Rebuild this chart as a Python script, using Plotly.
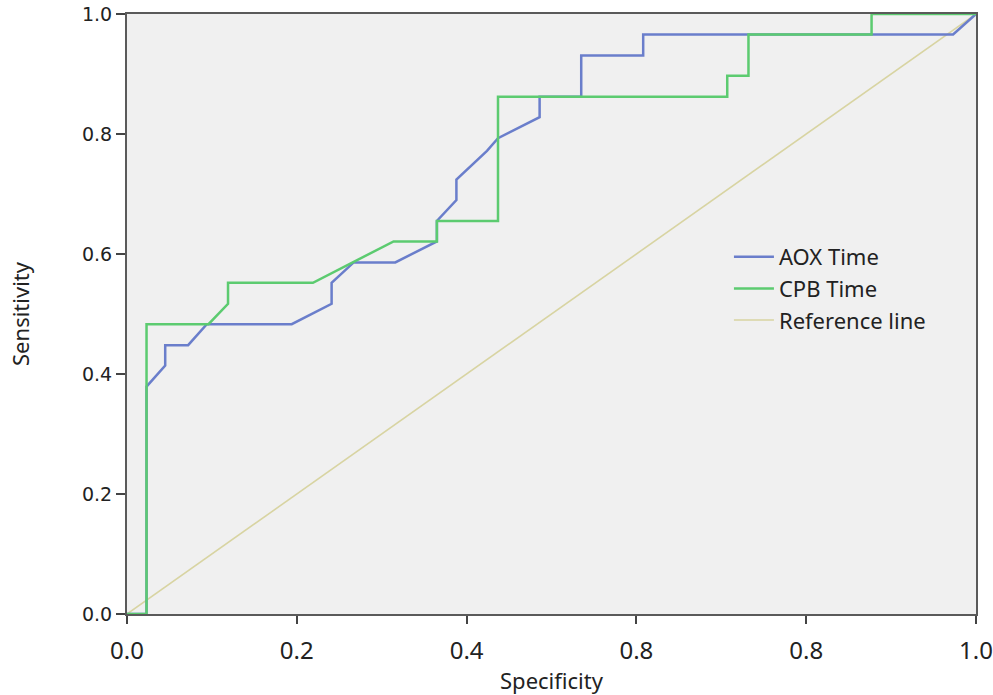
import plotly.graph_objects as go

# ROC data
aox_x = [0.0, 0.023, 0.023, 0.045, 0.045, 0.072, 0.094, 0.194, 0.241, 0.241, 0.267, 0.316,
         0.365, 0.365, 0.388, 0.388, 0.424, 0.437, 0.486, 0.486, 0.535, 0.535, 0.608, 0.608,
         0.973, 1.0]
aox_y = [0.0, 0.0, 0.379, 0.414, 0.448, 0.448, 0.483, 0.483, 0.517, 0.552, 0.586, 0.586,
         0.621, 0.655, 0.690, 0.724, 0.772, 0.793, 0.828, 0.862, 0.862, 0.931, 0.931, 0.966,
         0.966, 1.0]

cpb_x = [0.0, 0.023, 0.023, 0.096, 0.119, 0.119, 0.219, 0.314, 0.365, 0.365, 0.437, 0.437,
         0.707, 0.707, 0.732, 0.732, 0.877, 0.877, 1.0]
cpb_y = [0.0, 0.0, 0.483, 0.483, 0.517, 0.552, 0.552, 0.621, 0.621, 0.655, 0.655, 0.862,
         0.862, 0.897, 0.897, 0.966, 0.966, 1.0, 1.0]

ref_x = [0.0, 1.0]
ref_y = [0.0, 1.0]

x_tickvals = [0.0, 0.2, 0.4, 0.6, 0.8, 1.0]
x_ticktext = ["0.0", "0.2", "0.4", "0.8", "0.8", "1.0"]
y_tickvals = [0.0, 0.2, 0.4, 0.6, 0.8, 1.0]
y_ticktext = ["0.0", "0.2", "0.4", "0.6", "0.8", "1.0"]

fig = go.Figure()
fig.add_trace(go.Scatter(x=ref_x, y=ref_y, mode="lines", name="Reference line",
                         line=dict(color="#d8d4a2", width=1.6), legendrank=3))
fig.add_trace(go.Scatter(x=aox_x, y=aox_y, mode="lines", name="AOX Time",
                         line=dict(color="#6a7ecb", width=2.5), legendrank=1))
fig.add_trace(go.Scatter(x=cpb_x, y=cpb_y, mode="lines", name="CPB Time",
                         line=dict(color="#5ccb70", width=2.5), legendrank=2))

fig.update_layout(
    width=993, height=695,
    margin=dict(l=127, r=17, t=14, b=81),
    paper_bgcolor="white",
    plot_bgcolor="#f0f0f0",
    showlegend=True,
    legend=dict(x=0.709, y=0.63, xanchor="left", yanchor="top",
                bgcolor="rgba(0,0,0,0)", font=dict(family="Noto Sans", size=22, color="#222"),
                traceorder="normal", tracegroupgap=0, itemwidth=40),
    xaxis=dict(range=[0, 1], tickvals=x_tickvals, ticktext=x_ticktext, automargin=False,
               showgrid=False, zeroline=False, showline=True, linecolor="#5a5a5a",
               linewidth=2, mirror=True, ticks="outside", ticklen=8, tickwidth=2,
               tickcolor="#444", ticklabeloverflow="allow", ticklabelstandoff=6,
               tickfont=dict(family="Liberation Sans Narrow, Noto Sans", size=24, color="#222"),
               title=dict(text="Specificity", standoff=10,
                          font=dict(family="Liberation Sans Narrow, Noto Sans", size=22, color="#222"))),
    yaxis=dict(range=[0, 1], tickvals=y_tickvals, ticktext=y_ticktext, automargin=False,
               showgrid=False, zeroline=False, showline=True, linecolor="#5a5a5a",
               linewidth=2, mirror=True, ticks="outside", ticklen=9, tickwidth=2,
               tickcolor="#444", ticklabeloverflow="allow",
               tickfont=dict(family="DejaVu Sans", size=19, color="#222"),
               title=dict(text="Sensitivity", standoff=46,
                          font=dict(family="Liberation Sans Narrow, Noto Sans", size=22, color="#222"))),
)

fig.write_html("out.html", config={"displayModeBar": False},
               post_script="document.body.style.margin='0';")
